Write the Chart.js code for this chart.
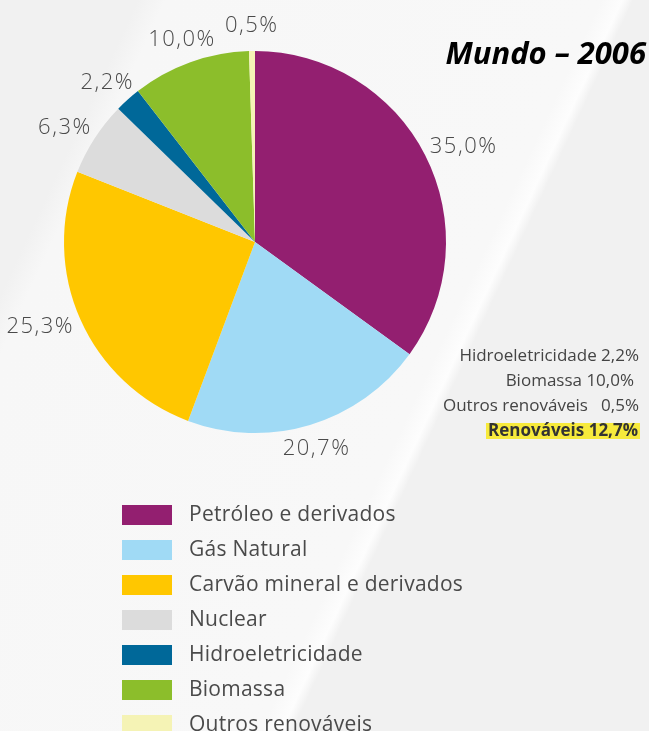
<!DOCTYPE html>
<html>
<head>
<meta charset="utf-8">
<script src="https://cdn.jsdelivr.net/npm/chart.js@4/dist/chart.umd.min.js"></script>
<style>
  html, body { margin: 0; padding: 0; }
  body {
    width: 649px; height: 731px; overflow: hidden;
    background: linear-gradient(115deg, #f1f1f1 0, #f1f1f1 125px, #f7f7f7 150px, #f8f8f8 545px, #fdfdfd 564px, #f1f1f1 574px, #f1f1f1 100%);
  }
  #wrap { position: relative; width: 649px; height: 731px; }
</style>
</head>
<body>
<div id="wrap"><canvas id="pieChart" width="649" height="731"></canvas></div>
<script>
// data
var categories = ['Petróleo e derivados', 'Gás Natural', 'Carvão mineral e derivados', 'Nuclear', 'Hidroeletricidade', 'Biomassa', 'Outros renováveis'];
var shares = [35.0, 20.7, 25.3, 6.3, 2.2, 10.0, 0.5];
var colors = ['#931f70', '#a0daf5', '#ffc700', '#dcdcdc', '#006899', '#8cbe2b', '#f5f3b5'];
var renewables = ['Hidroeletricidade', 'Biomassa', 'Outros renováveis'];
var chartTitle = 'Mundo – 2006';

function fmt(v) { return v.toFixed(1).replace('.', ',') + '%'; }

var FONT = '"Open Sans", "Noto Sans", sans-serif';

// labels outside the slices, box edge anchored to the arc
var sliceLabels = {
  id: 'sliceLabels',
  afterDatasetsDraw: function(chart) {
    var ctx = chart.ctx;
    var meta = chart.getDatasetMeta(0);
    ctx.save();
    ctx.font = '300 22px ' + FONT;
    ctx.letterSpacing = '1.5px';
    ctx.fillStyle = '#4a4a4a';
    ctx.textAlign = 'center';
    ctx.textBaseline = 'middle';
    meta.data.forEach(function(arc, i) {
      var txt = fmt(shares[i]);
      var w = ctx.measureText(txt).width;
      var mid = (arc.startAngle + arc.endAngle) / 2;
      var r = arc.outerRadius + 13;
      var cx = arc.x + Math.cos(mid) * (r + w / 2 * Math.abs(Math.cos(mid)));
      var cy = arc.y + Math.sin(mid) * (r + 12 * Math.abs(Math.sin(mid)));
      ctx.fillText(txt, cx, cy);
    });
    ctx.restore();
  }
};

// title, renewables note and vertical legend
var extras = {
  id: 'extras',
  afterDraw: function(chart) {
    var ctx = chart.ctx;
    ctx.save();
    ctx.fillStyle = '#000';
    ctx.font = 'italic bold 31px ' + FONT;
    ctx.textAlign = 'right';
    ctx.textBaseline = 'middle';
    ctx.fillText(chartTitle, 646, 55);

    // renewables block
    ctx.font = '17px ' + FONT;
    ctx.fillStyle = '#444';
    var total = 0;
    var y = 356;
    renewables.forEach(function(name) {
      var v = shares[categories.indexOf(name)];
      total += v;
      var txt = name === 'Outros renováveis' ? name + '   ' + fmt(v) : name + ' ' + fmt(v);
      ctx.fillText(txt, name === 'Biomassa' ? 634 : 639, y);
      y += 25;
    });
    ctx.font = 'bold 17px ' + FONT;
    var t = 'Renováveis ' + fmt(total);
    var w = ctx.measureText(t).width;
    ctx.fillStyle = '#f7ea3c';
    ctx.fillRect(638 - w - 2, y - 8, w + 4, 16);
    ctx.fillStyle = '#333';
    ctx.fillText(t, 638, y);

    // legend
    ctx.textAlign = 'left';
    ctx.font = '21px ' + FONT;
    ctx.letterSpacing = '0.25px';
    categories.forEach(function(name, i) {
      var ly = 515 + i * 35;
      ctx.fillStyle = colors[i];
      ctx.fillRect(122, ly - 10, 50, 20);
      ctx.fillStyle = '#4a4a4a';
      ctx.fillText(name, 189, ly);
    });
    ctx.restore();
  }
};

new Chart(document.getElementById('pieChart').getContext('2d'), {
  type: 'pie',
  data: {
    labels: categories,
    datasets: [{
      data: shares,
      backgroundColor: colors,
      hoverBackgroundColor: colors,
      borderWidth: 0
    }]
  },
  options: {
    responsive: false,
    animation: false,
    layout: { padding: { left: 64, right: 203, top: 51, bottom: 298 } },
    plugins: {
      legend: { display: false },
      tooltip: { enabled: false }
    }
  },
  plugins: [sliceLabels, extras]
});
</script>
</body>
</html>
